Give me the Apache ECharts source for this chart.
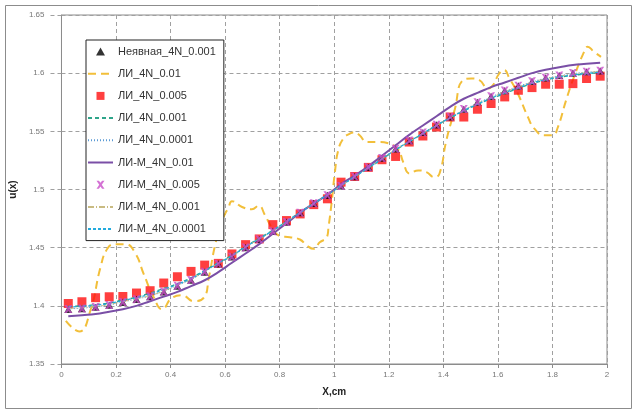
<!DOCTYPE html>
<html>
<head>
<meta charset="utf-8">
<script src="https://cdn.jsdelivr.net/npm/echarts@6/dist/echarts.min.js"></script>
<style>
html,body{margin:0;padding:0;background:#fff;}
#c{width:633px;height:410px;}
</style>
</head>
<body>
<div id="c"></div>
<script>
// ---- data ----
const xs = [0.025,0.075,0.125,0.175,0.225,0.275,0.325,0.375,0.425,0.475,0.525,0.575,0.625,0.675,0.725,0.775,0.825,0.875,0.925,0.975,1.025,1.075,1.125,1.175,1.225,1.275,1.325,1.375,1.425,1.475,1.525,1.575,1.625,1.675,1.725,1.775,1.825,1.875,1.925,1.975];

const implicit001 = [1.3970,1.3975,1.3988,1.4005,1.4030,1.4055,1.4080,1.4120,1.4170,1.4220,1.4290,1.4360,1.4420,1.4500,1.4570,1.4640,1.4720,1.4800,1.4880,1.4950,1.5030,1.5110,1.5190,1.5270,1.5350,1.5420,1.5490,1.5555,1.5625,1.5690,1.5750,1.5800,1.5850,1.5890,1.5930,1.5960,1.5980,1.6000,1.6012,1.6020];

const li001X = [0.016,0.065,0.106,0.143,0.168,0.197,0.234,0.271,0.302,0.339,0.369,0.406,0.442,0.485,0.522,0.540,0.564,0.589,0.613,0.625,0.662,0.698,0.723,0.746,0.771,0.801,0.837,0.874,0.899,0.924,0.947,0.973,0.979,0.991,1.002,1.015,1.034,1.057,1.075,1.093,1.119,1.162,1.198,1.235,1.253,1.276,1.308,1.338,1.367,1.386,1.411,1.441,1.472,1.503,1.532,1.564,1.582,1.605,1.623,1.642,1.673,1.710,1.733,1.770,1.801,1.820,1.850,1.879,1.916,1.929,1.952,1.978];
const li001Y = [1.387,1.378,1.396,1.433,1.449,1.453,1.453,1.445,1.427,1.407,1.397,1.407,1.409,1.404,1.407,1.424,1.453,1.473,1.485,1.490,1.485,1.483,1.486,1.478,1.4675,1.460,1.459,1.457,1.452,1.449,1.4546,1.459,1.4675,1.490,1.514,1.534,1.544,1.548,1.549,1.5466,1.5408,1.5408,1.5397,1.534,1.5235,1.5138,1.5164,1.515,1.5106,1.5138,1.5422,1.568,1.594,1.5954,1.594,1.5868,1.5897,1.5997,1.6026,1.5957,1.5825,1.5623,1.5526,1.5466,1.5466,1.5537,1.5767,1.5968,1.6184,1.6227,1.6184,1.614];

const li0005 = [1.4020,1.4035,1.4070,1.4078,1.4080,1.4110,1.4130,1.4196,1.4250,1.4296,1.4350,1.4365,1.4446,1.4526,1.4575,1.4698,1.4733,1.4790,1.4870,1.4920,1.5063,1.5112,1.5190,1.5256,1.5284,1.5408,1.5460,1.5537,1.5623,1.5623,1.5690,1.5739,1.5796,1.5853,1.5876,1.5905,1.5905,1.5910,1.5954,1.5974];

const li0001 = [1.3995,1.4000,1.4010,1.4025,1.4050,1.4075,1.4110,1.4150,1.4190,1.4240,1.4305,1.4370,1.4435,1.4510,1.4580,1.4650,1.4725,1.4805,1.4880,1.4955,1.5035,1.5110,1.5185,1.5260,1.5340,1.5410,1.5480,1.5550,1.5615,1.5675,1.5730,1.5780,1.5825,1.5870,1.5910,1.5940,1.5965,1.5980,1.5995,1.6005];

const li00001 = [1.3975,1.3980,1.3992,1.4008,1.4033,1.4058,1.4085,1.4125,1.4175,1.4225,1.4293,1.4362,1.4425,1.4503,1.4573,1.4643,1.4722,1.4801,1.4880,1.4952,1.5032,1.5110,1.5188,1.5267,1.5345,1.5415,1.5485,1.5552,1.5620,1.5684,1.5744,1.5795,1.5845,1.5886,1.5926,1.5956,1.5977,1.5996,1.6009,1.6017];

const lim001 = [1.3910,1.3920,1.3930,1.3950,1.3970,1.4000,1.4040,1.4080,1.4120,1.4170,1.4220,1.4290,1.4370,1.4450,1.4530,1.4620,1.4710,1.4800,1.4880,1.4955,1.5045,1.5120,1.5200,1.5290,1.5380,1.5470,1.5550,1.5630,1.5710,1.5780,1.5830,1.5880,1.5920,1.5960,1.6000,1.6030,1.6050,1.6070,1.6080,1.6090];

const lim0005 = [1.3972,1.3977,1.3990,1.4007,1.4032,1.4057,1.4083,1.4123,1.4173,1.4223,1.4292,1.4361,1.4422,1.4502,1.4572,1.4642,1.4721,1.4801,1.4881,1.4951,1.5031,1.5111,1.5191,1.5271,1.5351,1.5421,1.5491,1.5556,1.5626,1.5691,1.5751,1.5801,1.5851,1.5891,1.5931,1.5961,1.5981,1.6001,1.6013,1.6021];

const lim0001 = [1.3978,1.3983,1.3995,1.4012,1.4036,1.4061,1.4088,1.4128,1.4178,1.4228,1.4296,1.4364,1.4428,1.4505,1.4575,1.4645,1.4723,1.4802,1.4880,1.4953,1.5033,1.5110,1.5187,1.5265,1.5343,1.5413,1.5483,1.5550,1.5617,1.5680,1.5740,1.5790,1.5840,1.5882,1.5922,1.5952,1.5973,1.5992,1.6005,1.6014];

const lim00001 = [1.3990,1.3995,1.4005,1.4020,1.4045,1.4070,1.4100,1.4140,1.4185,1.4235,1.4300,1.4367,1.4430,1.4507,1.4577,1.4647,1.4724,1.4803,1.4880,1.4954,1.5034,1.5110,1.5186,1.5263,1.5342,1.5412,1.5482,1.5552,1.5617,1.5678,1.5734,1.5785,1.5832,1.5875,1.5915,1.5945,1.5968,1.5985,1.5998,1.6008];

const xTicks = [0,0.2,0.4,0.6,0.8,1,1.2,1.4,1.6,1.8,2];
const yTicks = [1.35,1.4,1.45,1.5,1.55,1.6,1.65];

const names = ['Неявная_4N_0.001','ЛИ_4N_0.01','ЛИ_4N_0.005','ЛИ_4N_0.001','ЛИ_4N_0.0001','ЛИ-М_4N_0.01','ЛИ-М_4N_0.005','ЛИ-М_4N_0.001','ЛИ-М_4N_0.0001'];

// ---- build ----
const pairs = arr => xs.map((x, i) => [x, arr[i]]);
const triPath = 'path://M5,0 L10,9 L0,9 Z';
const sqPath = 'path://M0,0 L10,0 L10,10 L0,10 Z';
const crossPath = 'path://M0,0 L3,0 L5,2.6 L7,0 L10,0 L6.6,5 L10,10 L7,10 L5,7.4 L3,10 L0,10 L3.4,5 Z';
const fontFam = '"Liberation Sans", Arial, sans-serif';

function lineSeries(name, arr, color, width, dash, z) {
  return {name, type: 'line', data: arr, smooth: true, symbol: 'circle', symbolSize: 1, showSymbol: false,
    lineStyle: {color, width, type: dash}, itemStyle: {color, opacity: 0}, z};
}

const chart = echarts.init(document.getElementById('c'), null, {renderer: 'canvas'});
chart.setOption({
  animation: false,
  backgroundColor: '#fff',
  graphic: [{
    type: 'rect', left: 3, top: 3, silent: true, z: -1,
    shape: {width: 626, height: 403},
    style: {fill: 'none', stroke: '#8c8c8c', lineWidth: 1}
  }],
  grid: {left: 59, top: 15, width: 548, height: 349, show: true, borderColor: '#8c8c8c', borderWidth: 1, containLabel: false},
  xAxis: {
    type: 'value', min: 0, max: 2, interval: 0.2,
    name: 'X,cm', nameLocation: 'middle', nameGap: 23,
    nameTextStyle: {fontFamily: fontFam, fontSize: 10, fontWeight: 'bold', color: '#222'},
    axisLine: {show: true, lineStyle: {color: '#8c8c8c'}},
    axisTick: {show: true, length: 4, lineStyle: {color: '#8c8c8c'}},
    axisLabel: {fontFamily: fontFam, fontSize: 8, color: '#777', margin: 7,
      formatter: v => { const t = xTicks.find(k => Math.abs(k - v) < 1e-6); return t === undefined ? '' : String(t); }},
    splitLine: {show: true, lineStyle: {color: '#a0a0a0', type: [4, 3]}}
  },
  yAxis: {
    type: 'value', min: 1.35, max: 1.65, interval: 0.05,
    name: 'u(x)', nameLocation: 'middle', nameGap: 31, nameRotate: 90,
    nameTextStyle: {fontFamily: fontFam, fontSize: 10, fontWeight: 'bold', color: '#222'},
    axisLine: {show: true, lineStyle: {color: '#8c8c8c'}},
    axisTick: {show: true, length: 14, lineStyle: {color: '#a0a0a0', type: [4, 3]}},
    axisLabel: {fontFamily: fontFam, fontSize: 8, color: '#777', margin: 17,
      formatter: v => { const t = yTicks.find(k => Math.abs(k - v) < 1e-6); return t === undefined ? '' : String(t); }},
    splitLine: {show: true, lineStyle: {color: '#a0a0a0', type: [4, 3]}}
  },
  legend: {
    orient: 'vertical', left: 86, top: 40,
    data: names,
    backgroundColor: '#fff', borderColor: '#222', borderWidth: 1,
    padding: [6, 8, 6, 1],
    itemWidth: 25, itemHeight: 8, itemGap: 11.2,
    textStyle: {fontFamily: fontFam, fontSize: 11, color: '#333'},
    z: 20
  },
  series: [
    {name: names[0], type: 'scatter', data: pairs(implicit001), symbol: triPath, symbolSize: 8, symbolKeepAspect: true,
     itemStyle: {color: '#000'}, z: 3},
    lineSeries(names[1], li001X.map((x, i) => [x, li001Y[i]]), '#f2bf3a', 2, [8, 5], 2),
    {name: names[2], type: 'scatter', data: pairs(li0005), symbol: sqPath, symbolSize: 9, symbolKeepAspect: true,
     itemStyle: {color: '#ff0f0f'}, z: 2},
    lineSeries(names[3], pairs(li0001), '#2ea58a', 1.3, [4, 3], 4),
    lineSeries(names[4], pairs(li00001), '#5b9bd5', 1, [1, 2], 4),
    lineSeries(names[5], pairs(lim001), '#7a4fa6', 2, 'solid', 4),
    {name: names[6], type: 'scatter', data: pairs(lim0005), symbol: crossPath, symbolSize: 8, symbolKeepAspect: true,
     itemStyle: {color: '#c94fc9'}, z: 6},
    lineSeries(names[7], pairs(lim0001), '#c9bb82', 1, [6, 2, 1, 2], 4),
    lineSeries(names[8], pairs(lim00001), '#22aadd', 1.3, [3, 2], 4)
  ]
});
</script>
</body>
</html>
